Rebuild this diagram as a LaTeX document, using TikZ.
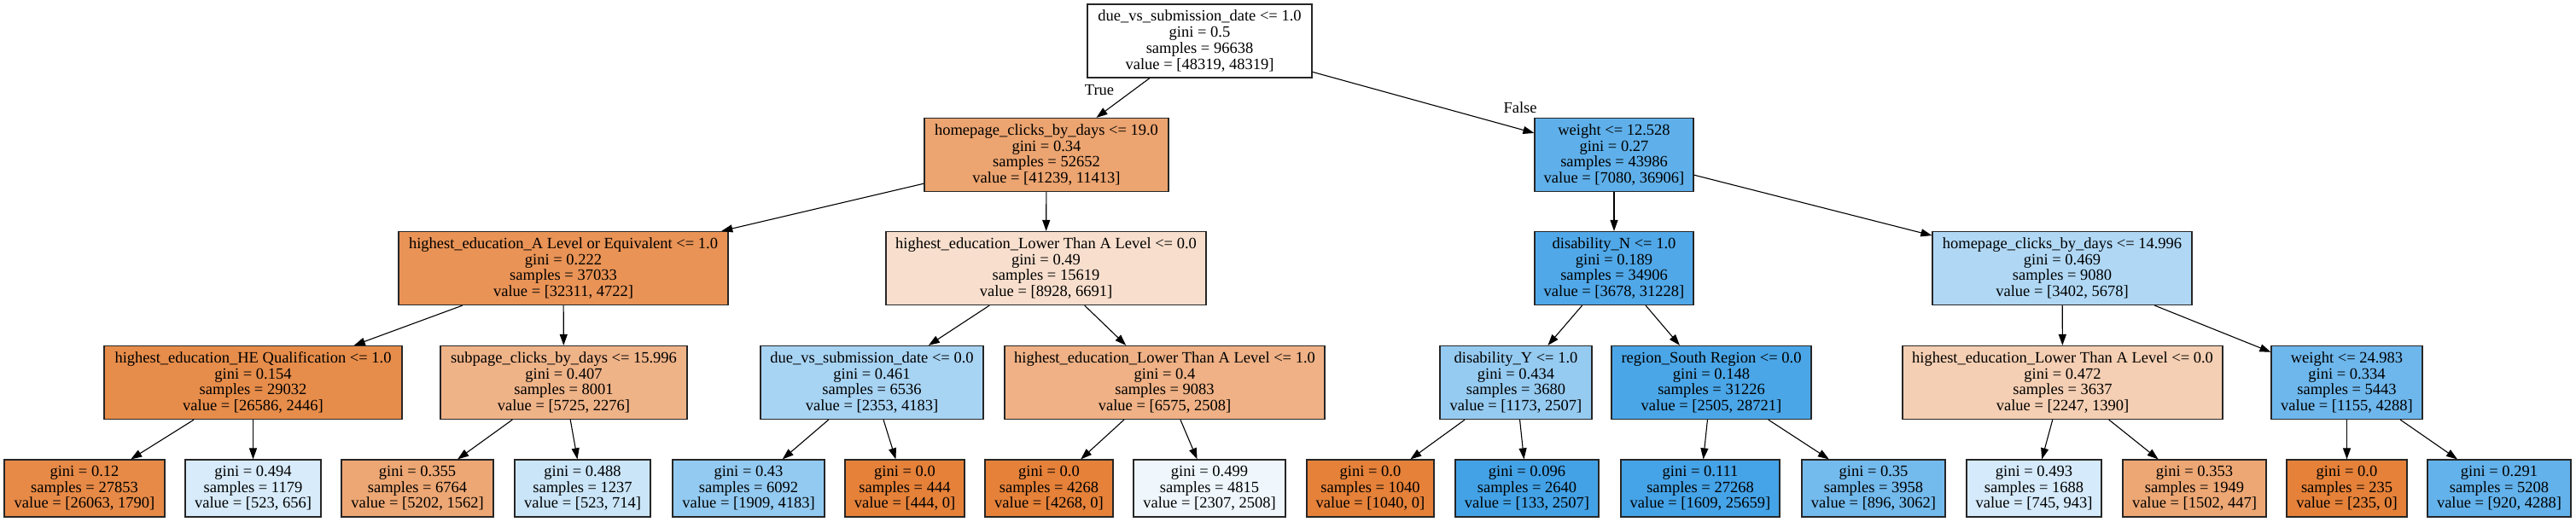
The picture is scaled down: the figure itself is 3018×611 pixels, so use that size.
\documentclass[tikz,border=0pt]{standalone}
\usepackage{fontspec}
\setmainfont{Liberation Serif}
\usetikzlibrary{arrows.meta}
\definecolor{cHP}{RGB}{236,164,112}
\definecolor{cWA}{RGB}{95,176,234}
\definecolor{cAL}{RGB}{233,147,86}
\definecolor{cLL}{RGB}{248,223,205}
\definecolor{cDN}{RGB}{80,168,232}
\definecolor{cHF}{RGB}{176,216,245}
\definecolor{cHE}{RGB}{231,141,75}
\definecolor{cSP}{RGB}{239,179,136}
\definecolor{cDU}{RGB}{168,212,244}
\definecolor{cLA}{RGB}{239,177,133}
\definecolor{cDY}{RGB}{150,203,241}
\definecolor{cRS}{RGB}{74,166,231}
\definecolor{cLR}{RGB}{245,207,179}
\definecolor{cWB}{RGB}{110,183,236}
\definecolor{cA}{RGB}{231,138,71}
\definecolor{cB}{RGB}{215,235,250}
\definecolor{cC}{RGB}{237,167,116}
\definecolor{cD}{RGB}{202,229,248}
\definecolor{cE}{RGB}{147,202,241}
\definecolor{cOR}{RGB}{229,129,57}
\definecolor{cH}{RGB}{239,247,253}
\definecolor{cJ}{RGB}{67,162,230}
\definecolor{cK}{RGB}{69,163,231}
\definecolor{cL}{RGB}{115,186,237}
\definecolor{cM}{RGB}{213,234,250}
\definecolor{cN}{RGB}{237,167,116}
\definecolor{cP}{RGB}{99,178,235}
\tikzset{
  tbox/.style={rectangle, draw=black!85, line width=1.2pt, inner sep=0pt, align=center,
    font=\fontsize{18.5}{18.7}\selectfont},
  inner/.style={tbox, minimum height=86pt},
  leaf/.style={tbox, minimum height=67pt},
  edge/.style={draw=black, line width=1.1pt, -{Triangle[length=13pt,width=9pt]}},
  elab/.style={inner sep=0pt, font=\fontsize{18.5}{18.7}\selectfont}
}
\begin{document}
\begin{tikzpicture}[x=1pt,y=-1pt]
\useasboundingbox (0,0) rectangle (3018,611);
\fill[white] (0,0) rectangle (3018,611);
% level 1
\node[inner, fill=white, minimum width=263pt] (root) at (1405.5,48) {due\_vs\_submission\_date <= 1.0\\gini = 0.5\\samples = 96638\\value = [48319, 48319]};
% level 2
\node[inner, fill=cHP, minimum width=286pt] (hp19) at (1226,181.5) {homepage\_clicks\_by\_days <= 19.0\\gini = 0.34\\samples = 52652\\value = [41239, 11413]};
\node[inner, fill=cWA, minimum width=186pt] (w12) at (1891,181.5) {weight <= 12.528\\gini = 0.27\\samples = 43986\\value = [7080, 36906]};
% level 3
\node[inner, fill=cAL, minimum width=386pt] (alev) at (660,314.5) {highest\_education\_A Level or Equivalent <= 1.0\\gini = 0.222\\samples = 37033\\value = [32311, 4722]};
\node[inner, fill=cLL, minimum width=375pt] (lowl) at (1225.5,314.5) {highest\_education\_Lower Than A Level <= 0.0\\gini = 0.49\\samples = 15619\\value = [8928, 6691]};
\node[inner, fill=cDN, minimum width=186pt] (disn) at (1891,314.5) {disability\_N <= 1.0\\gini = 0.189\\samples = 34906\\value = [3678, 31228]};
\node[inner, fill=cHF, minimum width=304pt] (hp14) at (2416,314.5) {homepage\_clicks\_by\_days <= 14.996\\gini = 0.469\\samples = 9080\\value = [3402, 5678]};
% level 4
\node[inner, fill=cHE, minimum width=349pt] (heq) at (296.5,448.5) {highest\_education\_HE Qualification <= 1.0\\gini = 0.154\\samples = 29032\\value = [26586, 2446]};
\node[inner, fill=cSP, minimum width=289pt] (sub) at (660.5,448.5) {subpage\_clicks\_by\_days <= 15.996\\gini = 0.407\\samples = 8001\\value = [5725, 2276]};
\node[inner, fill=cDU, minimum width=261pt] (due0) at (1021.5,448.5) {due\_vs\_submission\_date <= 0.0\\gini = 0.461\\samples = 6536\\value = [2353, 4183]};
\node[inner, fill=cLA, minimum width=375pt] (low1) at (1364.5,448.5) {highest\_education\_Lower Than A Level <= 1.0\\gini = 0.4\\samples = 9083\\value = [6575, 2508]};
\node[inner, fill=cDY, minimum width=178pt] (disy) at (1776,448.5) {disability\_Y <= 1.0\\gini = 0.434\\samples = 3680\\value = [1173, 2507]};
\node[inner, fill=cRS, minimum width=234pt] (reg) at (2005,448.5) {region\_South Region <= 0.0\\gini = 0.148\\samples = 31226\\value = [2505, 28721]};
\node[inner, fill=cLR, minimum width=375pt] (lowr) at (2416.5,448.5) {highest\_education\_Lower Than A Level <= 0.0\\gini = 0.472\\samples = 3637\\value = [2247, 1390]};
\node[inner, fill=cWB, minimum width=177pt] (w24) at (2749.5,448.5) {weight <= 24.983\\gini = 0.334\\samples = 5443\\value = [1155, 4288]};
% leaves
\node[leaf, fill=cA, minimum width=188pt] (l1) at (99,572.5) {gini = 0.12\\samples = 27853\\value = [26063, 1790]};
\node[leaf, fill=cB, minimum width=159pt] (l2) at (296.5,572.5) {gini = 0.494\\samples = 1179\\value = [523, 656]};
\node[leaf, fill=cC, minimum width=178pt] (l3) at (489,572.5) {gini = 0.355\\samples = 6764\\value = [5202, 1562]};
\node[leaf, fill=cD, minimum width=159pt] (l4) at (682.5,572.5) {gini = 0.488\\samples = 1237\\value = [523, 714]};
\node[leaf, fill=cE, minimum width=178pt] (l5) at (877,572.5) {gini = 0.43\\samples = 6092\\value = [1909, 4183]};
\node[leaf, fill=cOR, minimum width=140pt] (l6) at (1060,572.5) {gini = 0.0\\samples = 444\\value = [444, 0]};
\node[leaf, fill=cOR, minimum width=150pt] (l7) at (1229,572.5) {gini = 0.0\\samples = 4268\\value = [4268, 0]};
\node[leaf, fill=cH, minimum width=178pt] (l8) at (1417,572.5) {gini = 0.499\\samples = 4815\\value = [2307, 2508]};
\node[leaf, fill=cOR, minimum width=149pt] (l9) at (1605.5,572.5) {gini = 0.0\\samples = 1040\\value = [1040, 0]};
\node[leaf, fill=cJ, minimum width=168pt] (l10) at (1789,572.5) {gini = 0.096\\samples = 2640\\value = [133, 2507]};
\node[leaf, fill=cK, minimum width=186pt] (l11) at (1992,572.5) {gini = 0.111\\samples = 27268\\value = [1609, 25659]};
\node[leaf, fill=cL, minimum width=168pt] (l12) at (2195,572.5) {gini = 0.35\\samples = 3958\\value = [896, 3062]};
\node[leaf, fill=cM, minimum width=158pt] (l13) at (2383,572.5) {gini = 0.493\\samples = 1688\\value = [745, 943]};
\node[leaf, fill=cN, minimum width=168pt] (l14) at (2571,572.5) {gini = 0.353\\samples = 1949\\value = [1502, 447]};
\node[leaf, fill=cOR, minimum width=141pt] (l15) at (2749.5,572.5) {gini = 0.0\\samples = 235\\value = [235, 0]};
\node[leaf, fill=cP, minimum width=168pt] (l16) at (2928,572.5) {gini = 0.291\\samples = 5208\\value = [920, 4288]};
% edge labels
\node[elab] (tlab) at (1288,106) {True};
\node[elab] (flab) at (1781,126) {False};
% edges
\draw[edge] (root) -- (hp19);
\draw[edge] (root) -- (w12);
\draw[edge] (hp19) -- (alev);
\draw[edge] (hp19) -- (lowl);
\draw[edge] (w12) -- (disn);
\draw[edge] (w12) -- (hp14);
\draw[edge] (alev) -- (heq);
\draw[edge] (alev) -- (sub);
\draw[edge] (lowl) -- (due0);
\draw[edge] (lowl) -- (low1);
\draw[edge] (disn) -- (disy);
\draw[edge] (disn) -- (reg);
\draw[edge] (hp14) -- (lowr);
\draw[edge] (hp14) -- (w24);
\draw[edge] (heq) -- (l1);
\draw[edge] (heq) -- (l2);
\draw[edge] (sub) -- (l3);
\draw[edge] (sub) -- (l4);
\draw[edge] (due0) -- (l5);
\draw[edge] (due0) -- (l6);
\draw[edge] (low1) -- (l7);
\draw[edge] (low1) -- (l8);
\draw[edge] (disy) -- (l9);
\draw[edge] (disy) -- (l10);
\draw[edge] (reg) -- (l11);
\draw[edge] (reg) -- (l12);
\draw[edge] (lowr) -- (l13);
\draw[edge] (lowr) -- (l14);
\draw[edge] (w24) -- (l15);
\draw[edge] (w24) -- (l16);
\end{tikzpicture}
\end{document}
